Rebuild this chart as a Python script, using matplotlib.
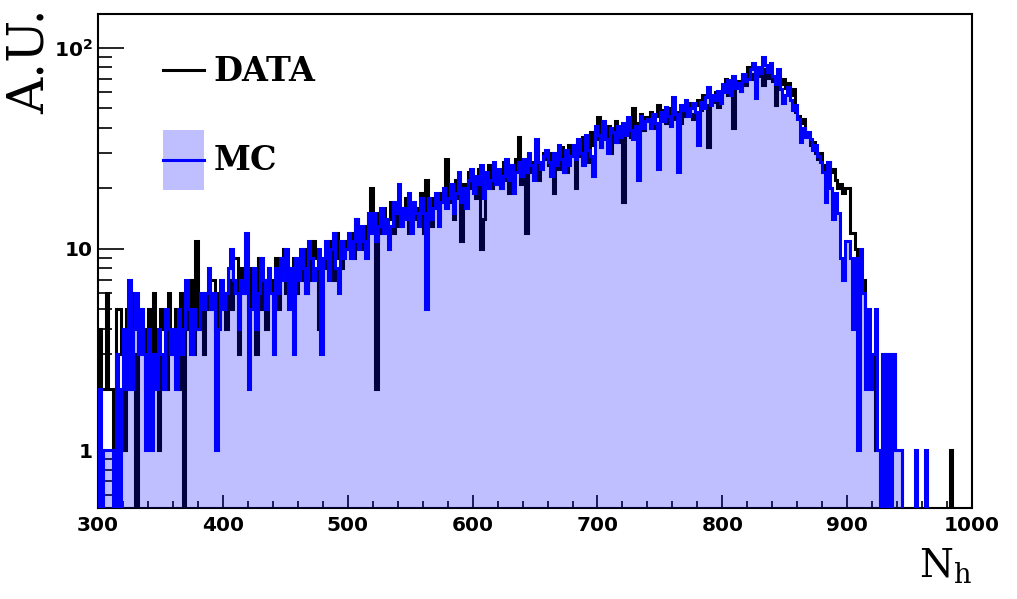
import numpy as np
import matplotlib.pyplot as plt
from matplotlib.lines import Line2D
from matplotlib.patches import Patch
from matplotlib.legend_handler import HandlerLine2D
from matplotlib.ticker import LogLocator, MultipleLocator, NullFormatter

plt.rcParams.update({
    "mathtext.fontset": "custom",
    "mathtext.rm": "DejaVu Serif",
    "mathtext.bf": "DejaVu Sans:bold",
})

# ── Binning ─────────────────────────────────────────────────────────────────
X_MIN, X_MAX, BIN_W = 300, 1000, 2
EDGES = np.arange(X_MIN, X_MAX + BIN_W, BIN_W)

# ── Counts per bin (one row = 20 units) ─────────────────────────────────────
DATA_COUNTS = [
    4, 2, 2, 6, 2, 2, 1, 5, 5, 3,            # 300
    1, 5, 2, 6, 3, 0, 4, 5, 4, 2,            # 320
    5, 2, 6, 3, 1, 5, 4, 2, 6, 4,            # 340
    3, 5, 2, 6, 0, 5, 4, 7, 3, 11,           # 360
    4, 5, 3, 6, 5, 7, 7, 4, 6, 5,            # 380
    6, 4, 7, 5, 9, 9, 3, 8, 6, 8,            # 400
    5, 8, 6, 3, 9, 5, 7, 4, 8, 6,            # 420
    7, 9, 5, 8, 10, 6, 8, 7, 9, 6,           # 440
    8, 7, 10, 6, 9, 7, 11, 9, 4, 8,          # 460
    9, 8, 11, 10, 7, 12, 9, 8, 10, 11,       # 480
    10, 12, 9, 14, 11, 12, 10, 13, 15, 20,   # 500
    14, 2, 15, 12, 16, 13, 14, 17, 12, 15,   # 520
    13, 16, 14, 18, 12, 15, 17, 14, 16, 19,  # 540
    12, 22, 15, 13, 18, 16, 14, 19, 17, 28,  # 560
    17, 20, 14, 22, 18, 11, 21, 19, 24, 20,  # 580
    22, 18, 25, 10, 14, 23, 26, 20, 24, 22,  # 600
    24, 20, 27, 22, 19, 26, 23, 28, 36, 21,  # 620
    25, 12, 29, 24, 27, 31, 22, 26, 30, 28,  # 640
    26, 30, 19, 28, 25, 32, 27, 24, 33, 29,  # 660
    31, 20, 34, 29, 36, 30, 27, 38, 33, 35,  # 680
    45, 32, 38, 35, 41, 30, 37, 43, 34, 39,  # 700
    17, 40, 44, 36, 50, 38, 42, 47, 39, 45,  # 720
    43, 48, 40, 46, 52, 44, 49, 42, 50, 47,  # 740
    50, 44, 48, 42, 51, 46, 53, 47, 44, 52,  # 760
    55, 49, 58, 52, 32, 57, 54, 60, 51, 58,  # 780
    62, 70, 58, 66, 40, 64, 68, 61, 72, 65,  # 800
    80, 70, 74, 68, 77, 72, 65, 78, 71, 75,  # 820
    68, 52, 72, 66, 70, 63, 67, 58, 62, 48,  # 840
    46, 42, 44, 38, 36, 33, 34, 30, 28, 30,  # 860
    26, 25, 27, 24, 25, 22, 20, 21, 19, 20,  # 880
    20, 12, 12, 10, 8, 7, 7, 5, 3, 3,        # 900
    3, 1, 1, 0, 3, 3, 3, 3, 3, 1,            # 920
    1, 1, 0, 0, 0, 0, 0, 0, 0, 0,            # 940
    0, 0, 0, 0, 0, 0, 0, 0, 0, 0,            # 960
    0, 1, 0, 0, 0, 0, 0, 0, 0, 0,            # 980
]

MC_COUNTS = [
    2, 0, 1, 1, 1, 1, 0, 3, 0, 2,            # 300
    4, 2, 7, 2, 4, 6, 3, 5, 3, 1,            # 320
    4, 1, 3, 2, 4, 3, 2, 5, 4, 3,            # 340
    4, 2, 5, 3, 4, 7, 5, 3, 5, 4,            # 360
    4, 6, 5, 6, 8, 5, 6, 1, 4, 7,            # 380
    5, 6, 8, 10, 7, 6, 4, 7, 6, 12,          # 400
    2, 5, 8, 4, 6, 9, 7, 5, 8, 6,            # 420
    3, 8, 6, 9, 7, 10, 5, 8, 3, 9,           # 440
    7, 10, 8, 6, 11, 9, 7, 8, 10, 3,         # 460
    9, 11, 7, 10, 12, 8, 6, 11, 9, 10,       # 480
    12, 9, 11, 14, 10, 13, 11, 9, 15, 12,    # 500
    15, 11, 13, 16, 12, 14, 10, 13, 17, 15,  # 520
    21, 13, 16, 14, 19, 12, 17, 15, 13, 18,  # 540
    15, 5, 18, 14, 16, 19, 13, 17, 20, 16,   # 560
    18, 21, 15, 19, 24, 17, 20, 16, 22, 25,  # 580
    19, 23, 21, 26, 18, 24, 20, 22, 27, 21,  # 600
    25, 20, 23, 28, 22, 26, 19, 24, 27, 23,  # 620
    28, 24, 30, 26, 22, 35, 27, 25, 29, 31,  # 640
    27, 23, 30, 26, 33, 28, 24, 31, 26, 29,  # 660
    33, 28, 35, 30, 26, 37, 31, 29, 23, 41,  # 680
    37, 32, 43, 35, 30, 40, 38, 34, 41, 36,  # 700
    42, 37, 45, 39, 35, 41, 22, 46, 40, 43,  # 720
    44, 40, 47, 42, 25, 48, 43, 51, 46, 41,  # 740
    57, 47, 24, 52, 49, 55, 46, 50, 53, 48,  # 760
    33, 54, 50, 57, 64, 52, 58, 55, 61, 53,  # 780
    66, 60, 69, 58, 72, 63, 67, 61, 74, 68,  # 800
    70, 78, 84, 56, 80, 75, 90, 82, 76, 84,  # 820
    72, 66, 78, 62, 53, 58, 64, 55, 49, 52,  # 840
    44, 34, 40, 36, 38, 35, 31, 33, 29, 27,  # 860
    24, 17, 27, 20, 14, 19, 15, 9, 7, 11,    # 880
    11, 9, 4, 9, 1, 10, 6, 2, 5, 2,          # 900
    3, 5, 1, 0, 3, 0, 3, 0, 3, 1,            # 920
    1, 1, 0, 0, 0, 0, 0, 1, 0, 0,            # 940
    0, 1, 0, 0, 0, 0, 0, 0, 0, 0,            # 960
    0, 0, 0, 0, 0, 0, 0, 0, 0, 0,            # 980
]

X_TICKS = [300, 400, 500, 600, 700, 800, 900, 1000]
Y_TICKS = [1, 10, 100]
Y_TICK_LABELS = ["1", "10", r"$\mathbf{10^{2}}$"]

C_MC_LINE = "#0000FF"
C_MC_FILL = (0.0, 0.0, 1.0, 0.25)
FLOOR = 1e-3   # empty bins drawn down below the axis floor (ROOT style)
LW = 2.2


class CenteredLine(HandlerLine2D):
    """Legend line drawn through the middle of the (tall) handle box."""
    def create_artists(self, legend, orig_handle, xdescent, ydescent,
                       width, height, fontsize, trans):
        arts = super().create_artists(legend, orig_handle, xdescent, ydescent,
                                      width, height, fontsize, trans)
        for a in arts:
            a.set_ydata(np.full(len(a.get_xdata()), height / 2 - ydescent))
        return arts


data = np.where(np.array(DATA_COUNTS) > 0, DATA_COUNTS, FLOOR)
mc = np.where(np.array(MC_COUNTS) > 0, MC_COUNTS, FLOOR)

fig = plt.figure(figsize=(10.17, 5.99), dpi=100)
ax = fig.add_axes([0.0964, 0.1519, 0.8594, 0.8247])

ax.stairs(data, EDGES, baseline=FLOOR, color="black", lw=LW, zorder=2)
ax.stairs(mc, EDGES, baseline=FLOOR, fill=True, facecolor=C_MC_FILL, lw=0, zorder=3)
ax.stairs(mc, EDGES, baseline=FLOOR, color=C_MC_LINE, lw=LW, zorder=4)

ax.set_yscale("log")
ax.set_xlim(X_MIN, X_MAX)
ax.set_ylim(0.515, 147)

ax.set_xticks(X_TICKS, labels=[str(t) for t in X_TICKS],
              fontweight="bold", fontsize=14.5, family="DejaVu Sans")
ax.xaxis.set_minor_locator(MultipleLocator(20))
ax.set_yticks(Y_TICKS, labels=Y_TICK_LABELS,
              fontweight="bold", fontsize=14.5, family="DejaVu Sans")
ax.yaxis.set_minor_locator(LogLocator(base=10, subs=np.arange(2, 10), numticks=20))
ax.yaxis.set_minor_formatter(NullFormatter())

ax.tick_params(axis="x", which="major", direction="in", length=9.5, width=1.2, pad=6)
ax.tick_params(axis="x", which="minor", direction="in", length=5, width=1.2)
ax.tick_params(axis="y", which="major", direction="in", length=19, width=1.2, pad=4)
ax.tick_params(axis="y", which="minor", direction="in", length=10, width=1.2)
for sp in ax.spines.values():
    sp.set_linewidth(1.5)

handles = [
    Line2D([], [], color="black", lw=LW),
    (Patch(facecolor=C_MC_FILL, edgecolor="none"), Line2D([], [], color=C_MC_LINE, lw=LW)),
]
ax.legend(handles, ["DATA", "MC"], loc="upper left", bbox_to_anchor=(0.0744, 0.947),
          frameon=False, borderpad=0, borderaxespad=0, handlelength=1.24,
          handleheight=2.4, handletextpad=0.27, labelspacing=0.88,
          handler_map={Line2D: CenteredLine()},
          prop={"family": "DejaVu Serif", "weight": "bold", "size": 24})

fig.text(30 / 1017, 1 - 8 / 599, "A.U.", rotation=90, ha="center", va="top",
         family="DejaVu Serif", fontsize=36)
fig.text(972 / 1017, 1 - 578 / 599, r"N$_\mathrm{h}$", ha="right", va="baseline",
         family="DejaVu Serif", fontsize=28)

fig.savefig("out.png", dpi=100)
